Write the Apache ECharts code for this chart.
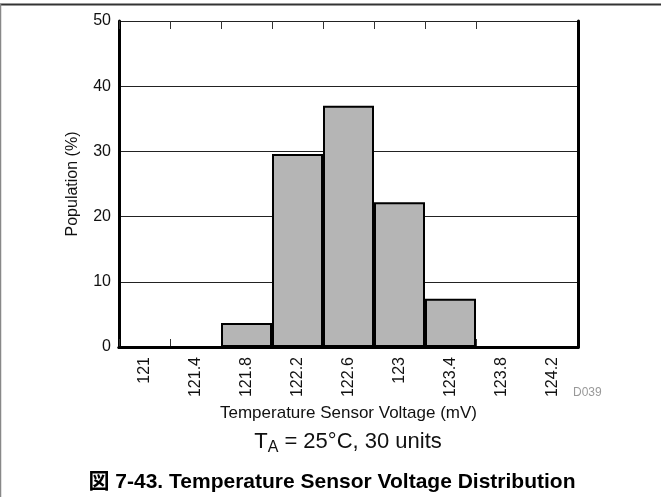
<!DOCTYPE html>
<html>
<head>
<meta charset="utf-8">
<style>
  html, body { margin: 0; padding: 0; background: #fff; }
  #chart { width: 661px; height: 497px; }
</style>
<script src="https://cdn.jsdelivr.net/npm/echarts@6/dist/echarts.min.js"></script>
</head>
<body>
<div id="chart"></div>
<script>
// Histogram bins (mV) and share of units per bin (%)
const voltageBins = ['121', '121.4', '121.8', '122.2', '122.6', '123', '123.4', '123.8', '124.2'];
const populationPct = [0, 0, 3.7, 29.6, 37.0, 22.2, 7.4, 0, 0];
const yTicks = { min: 0, max: 50, interval: 10 };

const FONT = '"Liberation Sans", Arial, Helvetica, sans-serif';
const TICK_LEN = 8;
const chart = echarts.init(document.getElementById('chart'), null, { renderer: 'canvas' });

const grid = { left: 119, right: 83, top: 21, bottom: 150 };

// inward ticks on the bin edges, top and bottom of the frame
function renderBinEdgeTicks(params, api) {
  const idx = api.value(0);
  const half = api.size([1, 0])[0] / 2;
  const bottom = api.coord([idx, yTicks.min]);
  const top = api.coord([idx, yTicks.max]);
  const x = Math.round(bottom[0] - half) + 0.5;
  const style = { stroke: '#333', lineWidth: 1 };
  return {
    type: 'group',
    children: [
      { type: 'line', shape: { x1: x, y1: bottom[1], x2: x, y2: bottom[1] - TICK_LEN }, style: style },
      { type: 'line', shape: { x1: x, y1: top[1], x2: x, y2: top[1] + TICK_LEN }, style: style }
    ]
  };
}

chart.setOption({
  animation: false,
  backgroundColor: '#fff',
  grid: grid,
  xAxis: [
    {
      type: 'category',
      data: voltageBins,
      position: 'bottom',
      boundaryGap: true,
      axisLine: { show: true, lineStyle: { color: '#000', width: 3 } },
      axisTick: { show: false },
      axisLabel: { rotate: 90, margin: 10, fontSize: 16, color: '#111', fontFamily: FONT },
      name: 'Temperature Sensor Voltage (mV)',
      nameLocation: 'middle',
      nameGap: 54,
      nameTextStyle: { fontSize: 17, color: '#111', fontFamily: FONT },
      splitLine: { show: false }
    },
    {
      type: 'category',
      data: voltageBins,
      position: 'top',
      boundaryGap: true,
      axisLine: { show: true, lineStyle: { color: '#000', width: 3 } },
      axisTick: { show: false },
      axisLabel: { show: false },
      splitLine: { show: false }
    }
  ],
  yAxis: [
    {
      type: 'value',
      min: yTicks.min,
      max: yTicks.max,
      interval: yTicks.interval,
      position: 'left',
      axisLine: { show: true, lineStyle: { color: '#000', width: 3 } },
      axisTick: { show: false },
      axisLabel: { margin: 8, fontSize: 16, color: '#111', fontFamily: FONT },
      splitLine: { show: true, lineStyle: { color: '#222', width: 1 } },
      name: 'Population (%)',
      nameLocation: 'middle',
      nameGap: 38,
      nameTextStyle: { fontSize: 16, color: '#111', fontFamily: FONT }
    },
    {
      type: 'value',
      min: yTicks.min,
      max: yTicks.max,
      interval: yTicks.interval,
      position: 'right',
      axisLine: { show: true, lineStyle: { color: '#000', width: 3 } },
      axisTick: { show: false },
      axisLabel: { show: false },
      splitLine: { show: false }
    }
  ],
  series: [
    {
      type: 'custom',
      xAxisIndex: 0,
      yAxisIndex: 0,
      data: voltageBins.map((_, i) => i).slice(1),
      renderItem: renderBinEdgeTicks,
      silent: true,
      z: 2
    },
    {
      type: 'bar',
      data: populationPct,
      xAxisIndex: 0,
      yAxisIndex: 0,
      barWidth: '100%',
      itemStyle: { color: '#b5b5b5', borderColor: '#000', borderWidth: 2 },
      z: 3
    }
  ],
  graphic: [
    // frame lines of the figure box
    { type: 'line', shape: { x1: 0, y1: 4.5, x2: 661, y2: 4.5 }, style: { stroke: '#333', lineWidth: 2 } },
    { type: 'line', shape: { x1: 0.5, y1: 4, x2: 0.5, y2: 497 }, style: { stroke: '#888', lineWidth: 1.5 } },
    // drawing id
    {
      type: 'text', left: 573, top: 387,
      style: { text: 'D039', fontSize: 12, fill: '#999', fontFamily: FONT }
    },
    // test condition
    {
      type: 'text', x: 348, y: 442,
      style: {
        text: '{m|T}{s|A}{m| = 25°C, 30 units}',
        align: 'center', verticalAlign: 'middle',
        fontFamily: FONT,
        rich: {
          m: { fontSize: 22, fill: '#111', fontFamily: FONT, lineHeight: 24 },
          s: { fontSize: 16, fill: '#111', fontFamily: FONT, lineHeight: 24, padding: [11, 0, 0, 0] }
        }
      }
    },
    // figure caption
    {
      type: 'text', x: 332, y: 482,
      style: {
        text: '図 7-43. Temperature Sensor Voltage Distribution',
        align: 'center', verticalAlign: 'middle',
        fontSize: 21, fontWeight: 'bold', fill: '#000',
        fontFamily: '"Liberation Sans", Arial, "Noto Sans CJK JP", sans-serif'
      }
    }
  ]
});
</script>
</body>
</html>
